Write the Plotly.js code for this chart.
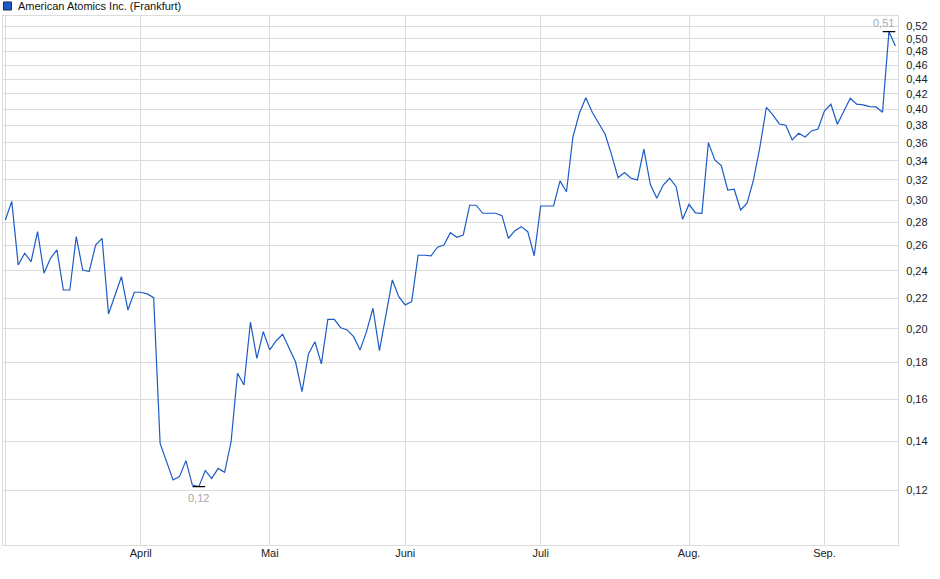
<!DOCTYPE html>
<html>
<head>
<meta charset="utf-8">
<script src="https://cdn.plot.ly/plotly-3.0.1.min.js"></script>
<style>
html,body{margin:0;padding:0;background:#fff;}
#chart{width:940px;height:579px;}
</style>
</head>
<body>
<div id="chart"></div>
<script>
// Daily closing prices (EUR), trading days from early March to mid September
var prices = [
  0.282, 0.299, 0.2446, 0.2538, 0.2472, 0.2717, 0.2383, 0.2498, 0.2565, 0.226,
  0.226, 0.2675, 0.2407, 0.2395, 0.2605, 0.2661, 0.2095, 0.2223, 0.2357, 0.2122,
  0.2244, 0.2244, 0.2232, 0.2206, 0.1392, 0.1314, 0.124, 0.1253, 0.1318, 0.122,
  0.1214, 0.1277, 0.1246, 0.1286, 0.127, 0.1399, 0.1737, 0.1674, 0.2041, 0.1821,
  0.1981, 0.187, 0.1925, 0.1965, 0.188, 0.18, 0.1639, 0.1846, 0.1919, 0.1789,
  0.206, 0.206, 0.2006, 0.1992, 0.195, 0.187, 0.1981, 0.2133, 0.1866, 0.2095,
  0.2333, 0.2213, 0.2156, 0.2178, 0.2522, 0.2522, 0.2518, 0.2587, 0.2605, 0.2709,
  0.267, 0.2689, 0.2954, 0.2954, 0.288, 0.288, 0.288, 0.2858, 0.2661, 0.2726,
  0.2761, 0.2717, 0.2518, 0.2947, 0.2947, 0.2947, 0.319, 0.3083, 0.3665, 0.395,
  0.415, 0.3963, 0.3828, 0.3697, 0.3463, 0.3223, 0.3276, 0.3217, 0.32, 0.3526,
  0.3156, 0.302, 0.3149, 0.3217, 0.3133, 0.2827, 0.2963, 0.2883, 0.288, 0.36,
  0.3408, 0.3348, 0.31, 0.3107, 0.291, 0.2973, 0.32, 0.3555, 0.4026, 0.393,
  0.3819, 0.3804, 0.3631, 0.3708, 0.3665, 0.3736, 0.3759, 0.398, 0.4065, 0.3816,
  0.3975, 0.4142, 0.4065, 0.4056, 0.4034, 0.403, 0.3963, 0.5113, 0.4887
];
// Month starts (trading-day index) and labels
var monthStartIdx = [0, 21, 41, 62, 83, 106, 127];
var monthLabels = ["", "April", "Mai", "Juni", "Juli", "Aug.", "Sep."];
// Price axis ticks
var priceTicks = [0.12,0.14,0.16,0.18,0.20,0.22,0.24,0.26,0.28,0.30,0.32,0.34,0.36,0.38,0.40,0.42,0.44,0.46,0.48,0.50,0.52];
var seriesName = "American Atomics Inc. (Frankfurt)";

var idx = prices.map(function(_, i){ return i; });
var iMax = 0, iMin = 0;
prices.forEach(function(v, i){ if (v > prices[iMax]) iMax = i; if (v < prices[iMin]) iMin = i; });
function fmt(v){ return v.toFixed(2).replace(".", ","); }

var lineColor = "#1c5bc6";
var gridColor = "#dcdcdc";
var fontFam = "Liberation Sans, Arial, sans-serif";

var traces = [
  {
    x: idx, y: prices, type: "scatter", mode: "lines",
    line: {color: lineColor, width: 1.2},
    hoverinfo: "skip", showlegend: false
  },
  {
    x: [iMax, iMin], y: [prices[iMax], prices[iMin]], type: "scatter", mode: "markers",
    marker: {symbol: "line-ew", size: 9, line: {color: "#000", width: 1.2}, color: "#000"},
    hoverinfo: "skip", showlegend: false
  }
];

var layout = {
  width: 940, height: 579,
  margin: {l: 3, r: 42, t: 16, b: 34, pad: 0},
  paper_bgcolor: "#fff", plot_bgcolor: "#fff",
  separators: ",.",
  font: {family: fontFam, size: 11, color: "#222"},
  showlegend: false,
  xaxis: {
    range: [-0.36, 138.4],
    tickmode: "array", tickvals: monthStartIdx, ticktext: monthLabels,
    showgrid: true, gridcolor: gridColor, gridwidth: 1,
    zeroline: false,
    showline: true, linecolor: gridColor, linewidth: 1, mirror: true,
    ticks: "", ticklabelstandoff: -2,
    tickfont: {family: fontFam, size: 11, color: "#222"},
    fixedrange: true
  },
  yaxis: {
    type: "log", side: "right",
    range: [Math.log10(0.10095), Math.log10(0.5372)],
    tickmode: "array", tickvals: priceTicks, ticktext: priceTicks.map(fmt),
    showgrid: true, gridcolor: gridColor, gridwidth: 1,
    zeroline: false,
    showline: true, linecolor: gridColor, linewidth: 1, mirror: true,
    ticks: "outside", ticklen: 5, tickcolor: "rgba(0,0,0,0)",
    tickfont: {family: fontFam, size: 11, color: "#222"},
    fixedrange: true
  },
  shapes: [
    {type: "rect", xref: "paper", yref: "paper",
     x0: 0.0005, x1: 0.0095, y0: 1.0113, y1: 1.0265,
     fillcolor: "#1c5bc6", line: {color: "#1a2a50", width: 1}}
  ],
  annotations: [
    {xref: "paper", yref: "paper", x: 0.0145, y: 1.0189, xanchor: "left", yanchor: "middle",
     text: seriesName, showarrow: false, font: {family: fontFam, size: 11, color: "#111"}},
    {x: iMax, y: Math.log10(prices[iMax]), xanchor: "center", yanchor: "bottom",
     text: fmt(prices[iMax]), showarrow: false, xshift: -5, yshift: 1,
     font: {family: fontFam, size: 11, color: "#a8a8a8"}},
    {x: iMin, y: Math.log10(prices[iMin]), xanchor: "center", yanchor: "top",
     text: fmt(prices[iMin]), showarrow: false, yshift: -3,
     font: {family: fontFam, size: 11, color: "#a8a8a8"}}
  ]
};

Plotly.newPlot("chart", traces, layout, {displayModeBar: false, staticPlot: true});
</script>
</body>
</html>
